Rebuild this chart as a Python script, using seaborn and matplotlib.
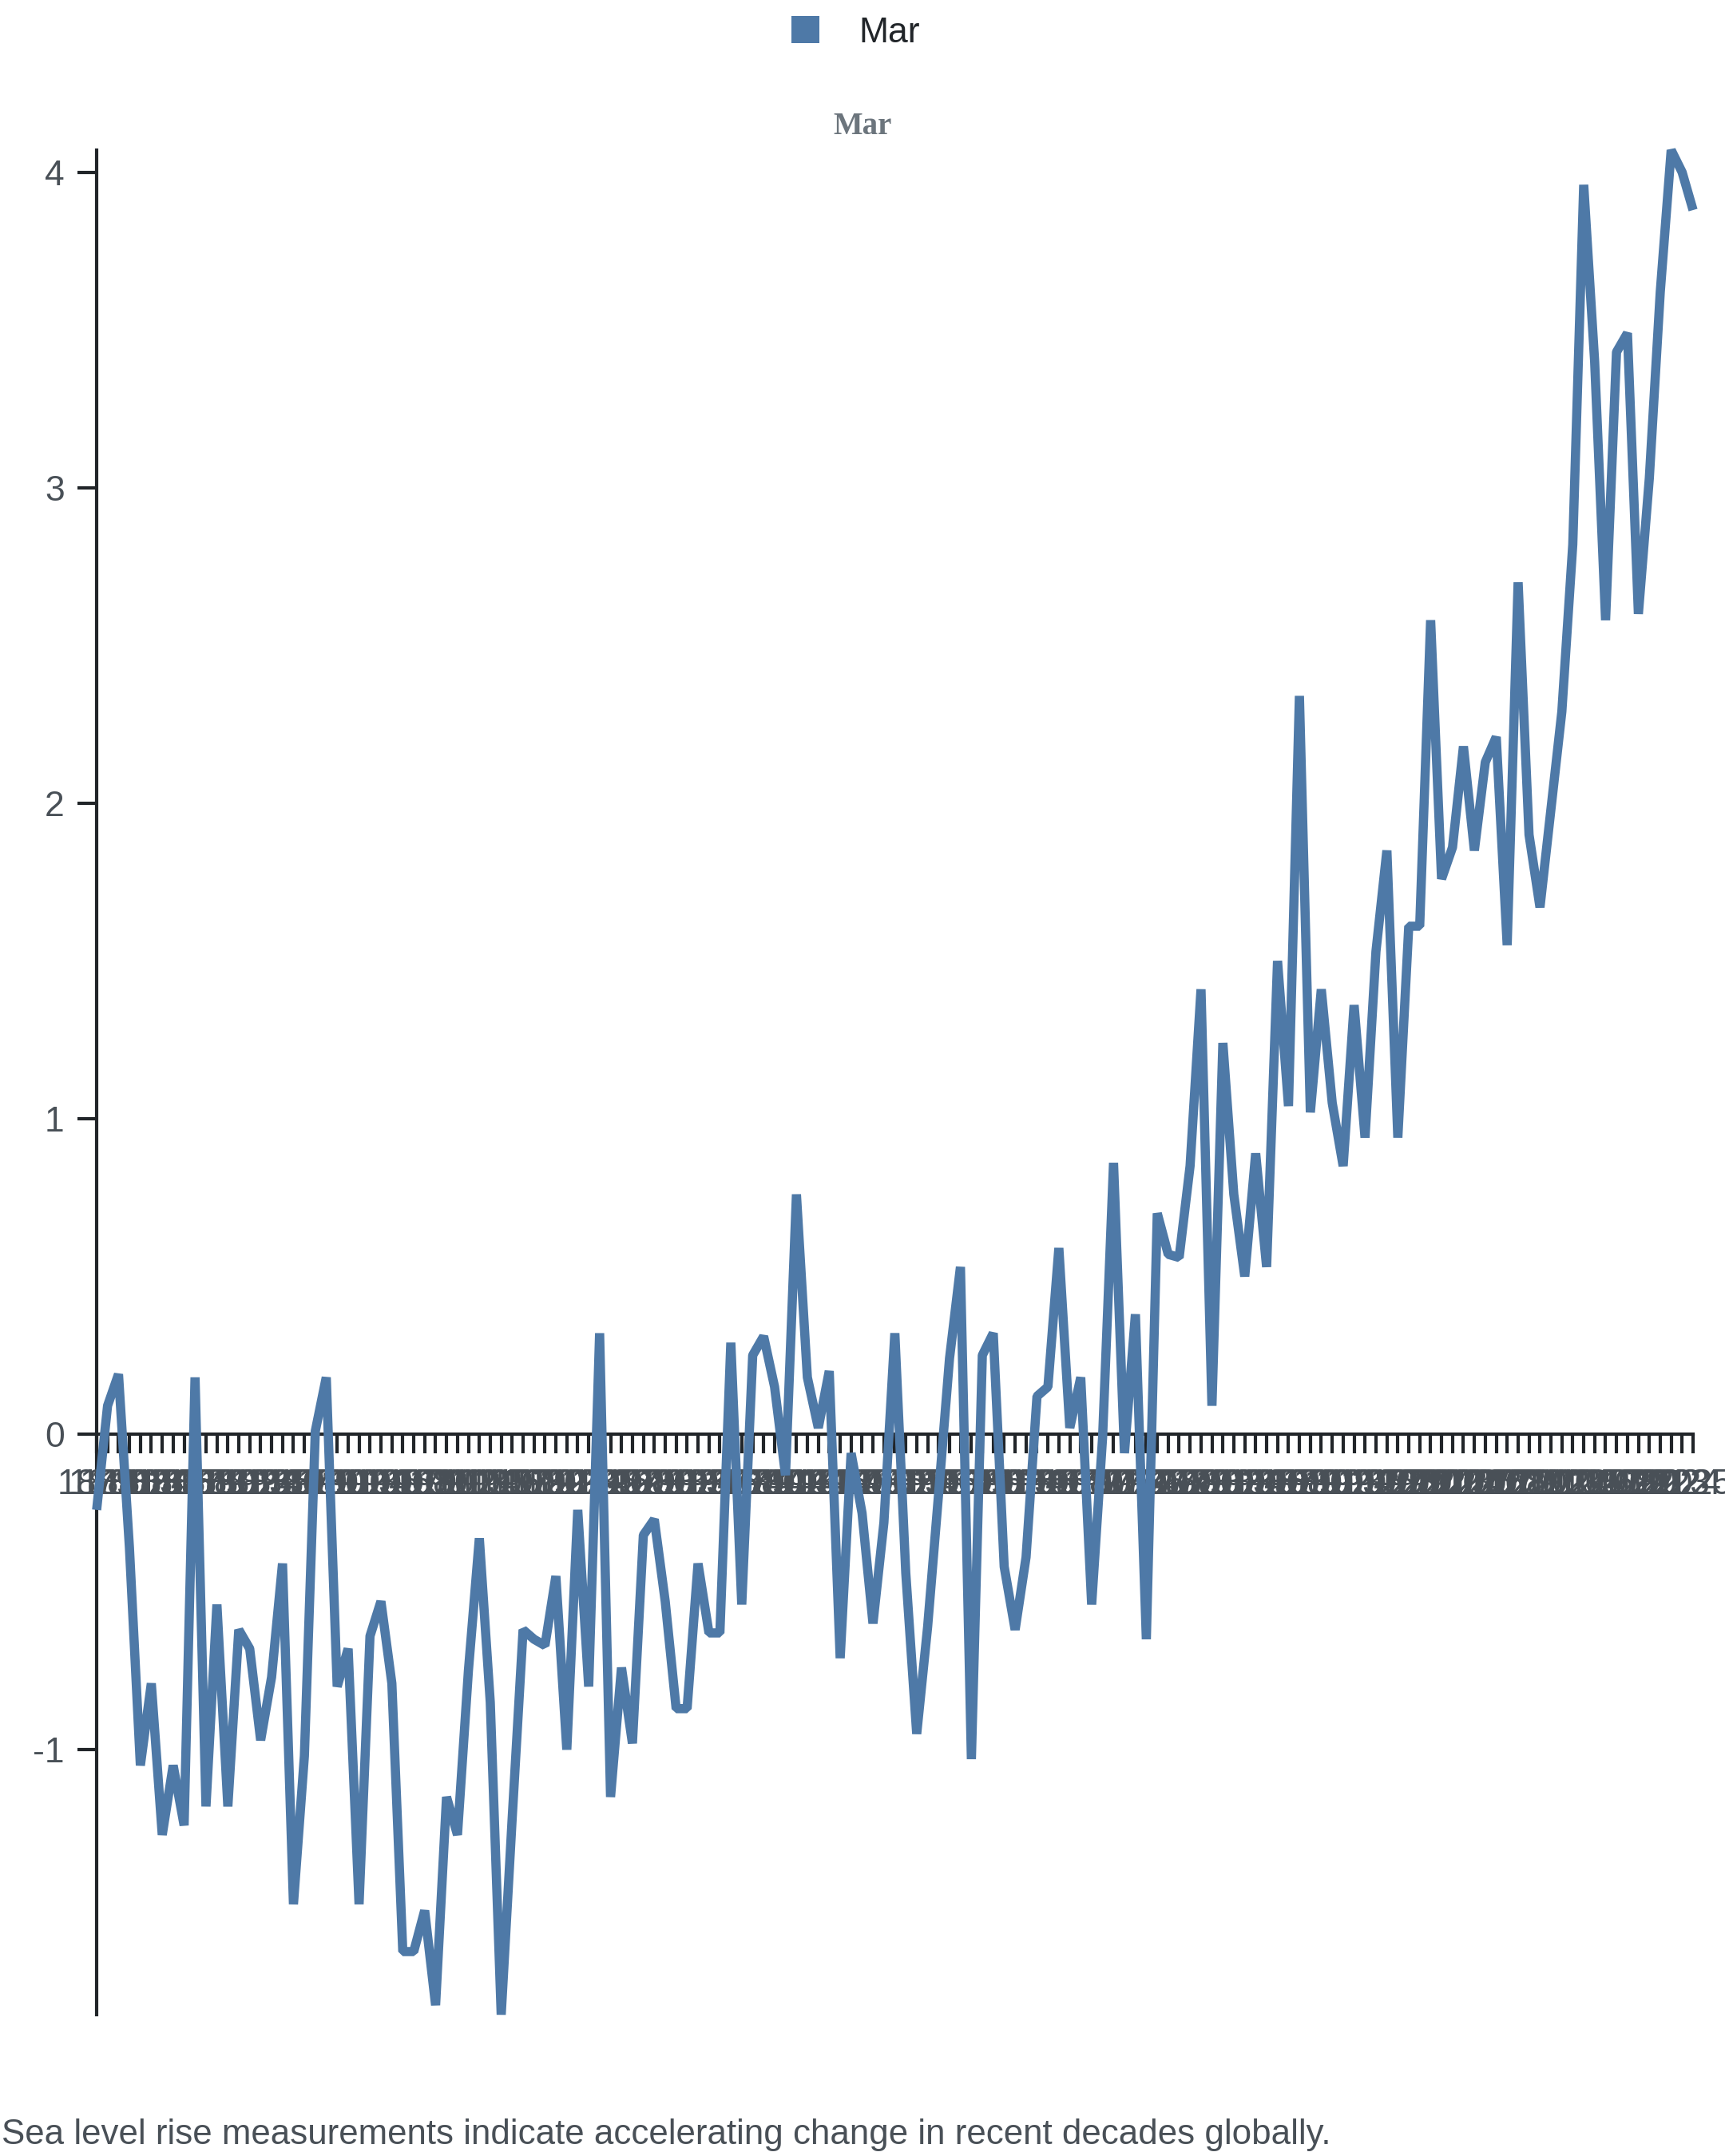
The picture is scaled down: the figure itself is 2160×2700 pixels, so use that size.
import matplotlib
matplotlib.use("Agg")
import matplotlib.pyplot as plt
from matplotlib.patches import Patch
import numpy as np
import pandas as pd
import seaborn as sns

# ---------------- data ----------------
years = list(range(1879, 2026))
mar_values = [
    -0.24, 0.09, 0.19, -0.36, -1.05, -0.79, -1.27, -1.05, -1.24, 0.18,
    -1.18, -0.54, -1.18, -0.62, -0.68, -0.97, -0.77, -0.41, -1.49, -1.02,
    0.01, 0.18, -0.80, -0.68, -1.49, -0.64, -0.53, -0.79, -1.64, -1.64,
    -1.51, -1.81, -1.15, -1.27, -0.75, -0.33, -0.85, -1.84, -1.22, -0.62,
    -0.65, -0.67, -0.45, -1.00, -0.24, -0.80, 0.32, -1.15, -0.74, -0.98,
    -0.32, -0.27, -0.53, -0.87, -0.87, -0.41, -0.63, -0.63, 0.29, -0.54,
    0.25, 0.31, 0.15, -0.13, 0.76, 0.18, 0.02, 0.20, -0.71, -0.06,
    -0.25, -0.60, -0.28, 0.32, -0.44, -0.95, -0.61, -0.19, 0.24, 0.53,
    -1.03, 0.25, 0.32, -0.42, -0.62, -0.39, 0.12, 0.15, 0.59, 0.02,
    0.18, -0.54, -0.01, 0.86, -0.06, 0.38, -0.65, 0.70, 0.57, 0.56,
    0.85, 1.41, 0.09, 1.24, 0.76, 0.50, 0.89, 0.53, 1.50, 1.04,
    2.34, 1.02, 1.41, 1.05, 0.85, 1.36, 0.94, 1.53, 1.85, 0.94,
    1.61, 1.61, 2.58, 1.76, 1.86, 2.18, 1.85, 2.13, 2.21, 1.55,
    2.70, 1.90, 1.67, 1.98, 2.29, 2.82, 3.96, 3.40, 2.58, 3.43,
    3.49, 2.60, 3.03, 3.62, 4.07, 4.00, 3.88,
]
y_ticks = [-1, 0, 1, 2, 3, 4]
x_tick_labels = [str(y) for y in years]
series_name = "Mar"
title_text = "Mar"
caption_text = "Sea level rise measurements indicate accelerating change in recent decades globally."

df = pd.DataFrame({"year": years, "value": mar_values, "series": series_name})

# ---------------- style ----------------
sns.set_theme(style="white")
plt.rcParams["font.family"] = ["Liberation Sans", "DejaVu Sans"]

LINE_COLOR = "#4e79a7"
AXIS_COLOR = "#212529"
LABEL_COLOR = "#495057"

W, H = 2160, 2700
fig = plt.figure(figsize=(W / 100, H / 100), dpi=100)
fig.patch.set_facecolor("white")

left, right, top, bottom = 121, 2120, 188, 2523
ax = fig.add_axes([left / W, 1 - bottom / H, (right - left) / W, (bottom - top) / H])
ax.set_facecolor("white")

sns.lineplot(data=df, x="year", y="value", ax=ax, color=LINE_COLOR,
             linewidth=8.3, legend=False, errorbar=None)
for ln in ax.lines:
    ln.set_solid_joinstyle("bevel")
    ln.set_solid_capstyle("butt")
    ln.set_clip_on(False)

ax.set_xlim(years[0], years[-1])
ax.set_ylim(min(mar_values), max(mar_values))
ax.set_xlabel("")
ax.set_ylabel("")
ax.grid(False)

ax.spines["top"].set_visible(False)
ax.spines["right"].set_visible(False)
ax.spines["bottom"].set_position(("data", 0))
for s in ("left", "bottom"):
    ax.spines[s].set_linewidth(3.0)
    ax.spines[s].set_color(AXIS_COLOR)
    ax.spines[s].set_zorder(0.5)

ax.set_xticks(years)
ax.set_xticklabels(x_tick_labels)
ax.set_yticks(y_ticks)
ax.set_yticklabels([str(t) for t in y_ticks])
ax.tick_params(axis="both", which="major", direction="out", length=17, width=3.0,
               color=AXIS_COLOR, labelsize=32, labelcolor=LABEL_COLOR,
               bottom=True, left=True, top=False, right=False)
ax.tick_params(axis="x", pad=14, rotation=0)
ax.tick_params(axis="y", pad=12)

# legend
fig.legend(handles=[Patch(facecolor=LINE_COLOR, edgecolor="none")], labels=[series_name],
           loc="center", bbox_to_anchor=((1080 - 9) / W, 1 - 41 / H), frameon=False, fontsize=32,
           handlelength=0.8, handleheight=0.8, handletextpad=1.1, labelcolor=AXIS_COLOR)

# title
fig.text(0.5, 1 - 158 / H, title_text, ha="center", va="center", fontsize=28,
         fontweight="bold", color="#6c757d", family=["Liberation Serif", "DejaVu Serif"])

# caption
fig.text(2 / W, 1 - 2673 / H, caption_text, ha="left", va="center", fontsize=31.6,
         color=LABEL_COLOR)

fig.savefig("out.png", dpi=100, facecolor="white")
